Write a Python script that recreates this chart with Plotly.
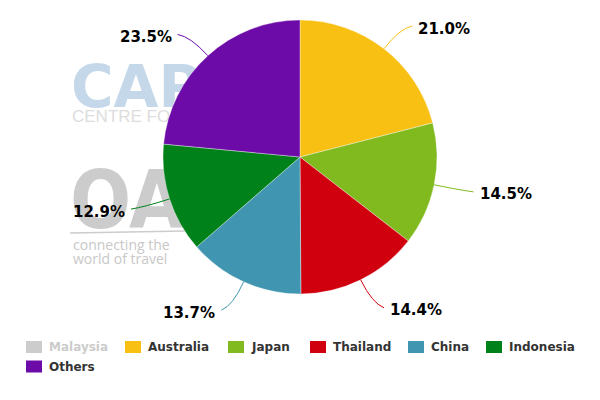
import math
import plotly.graph_objects as go

# ---- data ----
labels = ["Malaysia", "Australia", "Japan", "Thailand", "China", "Indonesia", "Others"]
values = [9.0, 21.0, 14.5, 14.4, 13.7, 12.9, 23.5]
hidden = ["Malaysia"]
colors = ["#CCCCCC", "#F8C013", "#80BA1E", "#D0000E", "#4096B0", "#00811A", "#6D0BA8"]

# ---- geometry (layout, in window pixels; page body has an 8px margin) ----
OFF = 8
W, H = 600 - OFF, 400 - OFF
cx, cy, r = 300, 157, 137


def S(x, y):
    """window pixel -> paper coordinate"""
    return (x - OFF) / W, 1 - (y - OFF) / H


fig = go.Figure()
dx0, dy1 = S(cx - r, cy + r)
dx1, dy0 = S(cx + r, cy - r)
fig.add_trace(go.Pie(
    labels=labels, values=values, sort=False, direction="clockwise", rotation=0,
    marker=dict(colors=colors, line=dict(color="rgba(255,255,255,0.6)", width=0.6)),
    textinfo="none", hoverinfo="label+percent", showlegend=False,
    domain=dict(x=[dx0, dx1], y=[dy1, dy0]),
))

# ---- slice labels with connectors, derived from the visible values ----
vis = [(l, v, c) for l, v, c in zip(labels, values, colors) if l not in hidden]
total = sum(v for _, v, _ in vis)
shapes = []
annotations = []
cum = 0.0
for lab, v, col in vis:
    mid = (cum + v / 2) / total * 2 * math.pi
    cum += v
    s, c = math.sin(mid), -math.cos(mid)
    right = s >= 0
    ex, ey = cx + r * s, cy + r * c
    bx, by = cx + (r + 26) * s, cy + (r + 26) * c
    lx, ly = cx + (r + 30) * s, cy + (r + 30) * c
    hx = lx + (10 if right else -10)
    p = [S(ex, ey), S(bx, by), S(hx, ly + 1)]
    path = "M {} {} Q {} {} {} {}".format(p[0][0], p[0][1], p[1][0], p[1][1], p[2][0], p[2][1])
    shapes.append(dict(type="path", xref="paper", yref="paper", path=path,
                       line=dict(color=col, width=1), layer="above"))
    tx, ty = S(lx + (14 if right else -14), ly + 3.5)
    annotations.append(dict(
        x=tx, y=ty, xref="paper", yref="paper", showarrow=False,
        text="{:.1f}%".format(v / total * 100),
        xanchor="left" if right else "right", yanchor="middle",
        font=dict(family="DejaVu Sans", size=15, color="#000000", weight="bold"),
    ))

# ---- legend (squares + text), built from labels / colors ----
leg_x = [26, 125, 228, 310, 408, 486, 26]      # item left edges (px)
leg_y = [347, 347, 347, 347, 347, 347, 366.5]  # item row centres (px)
for lab, col, lxp, lyp in zip(labels, colors, leg_x, leg_y):
    off = lab in hidden
    a0 = S(lxp, lyp - 6)
    a1 = S(lxp + 16, lyp + 6)
    shapes.append(dict(type="rect", xref="paper", yref="paper", layer="above",
                       x0=a0[0], x1=a1[0], y0=a1[1], y1=a0[1],
                       line=dict(width=0), fillcolor="#CCCCCC" if off else col))
    t = S(lxp + 21, lyp)
    annotations.append(dict(
        x=t[0], y=t[1], xref="paper", yref="paper", showarrow=False,
        text=lab, xanchor="left", yanchor="middle",
        font=dict(family="DejaVu Sans", size=12, weight="bold",
                  color="#CCCCCC" if off else "#333333"),
    ))


# ---- watermark (below the pie) ----
def wm(text, x0, yc, size, color, family, weight="normal", h=40):
    a0 = S(x0, yc - h / 2)
    a1 = S(x0 + 300, yc + h / 2)
    return dict(type="rect", xref="paper", yref="paper", layer="below",
                x0=a0[0], x1=a1[0], y0=a1[1], y1=a0[1],
                line=dict(width=0), fillcolor="rgba(0,0,0,0)",
                label=dict(text=text, textposition="middle left", padding=0,
                           font=dict(size=size, color=color, family=family, weight=weight)))


sw0 = S(70, 233)
sw1 = S(186, 231)
shapes = [
    wm("CAPA", 68, 83, 58, "#C5D8EA", "DejaVu Sans", "bold", 60),
    wm("CENTRE FOR AVIATION", 69, 114, 17, "#DDDDDD", "Liberation Sans"),
    wm("OAG", 67, 194, 80, "#CCCCCC", "DejaVu Sans Condensed, Liberation Sans Narrow, Roboto", "bold", 90),
    wm("connecting the", 70, 245, 14, "#C8C8C8", "Open Sans"),
    wm("world of travel", 70, 259, 14, "#C8C8C8", "Open Sans"),
    dict(type="line", xref="paper", yref="paper", layer="below",
         x0=sw0[0], x1=sw1[0], y0=sw0[1], y1=sw1[1],
         line=dict(color="#CCCCCC", width=1.5)),
] + shapes

fig.update_layout(
    width=W, height=H, margin=dict(l=0, r=0, t=0, b=0),
    paper_bgcolor="white", plot_bgcolor="white",
    hiddenlabels=hidden,
    shapes=shapes, annotations=annotations,
    showlegend=False,
)

fig.write_html("out.html")
